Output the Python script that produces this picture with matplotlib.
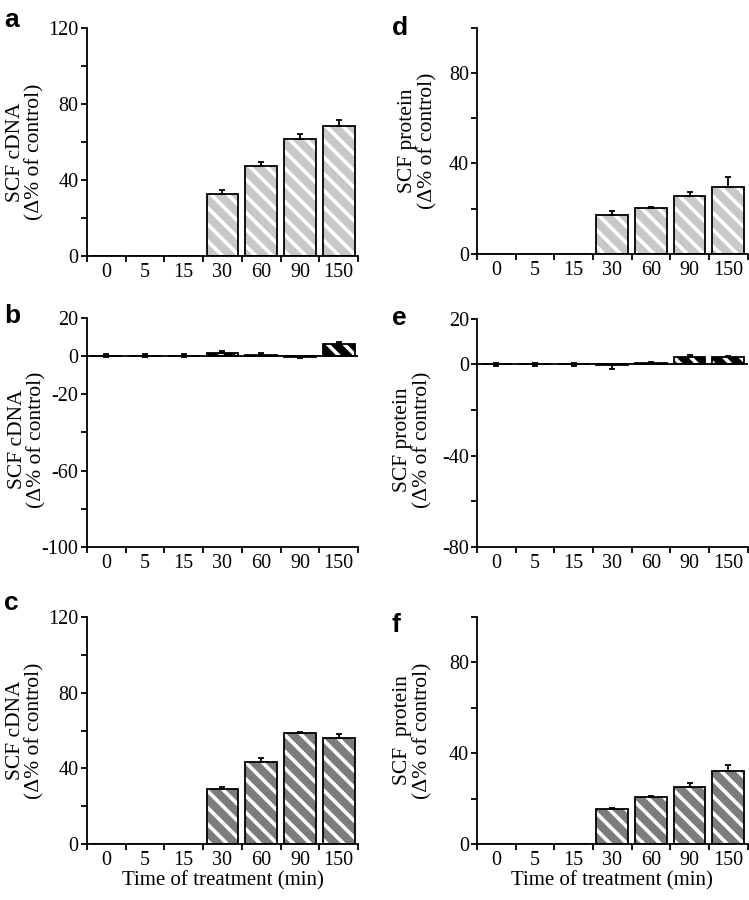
import matplotlib
matplotlib.use("Agg")
import matplotlib.pyplot as plt
import numpy as np

plt.rcParams['font.family'] = ['Liberation Serif', 'DejaVu Serif']
plt.rcParams['hatch.linewidth'] = 2.6

# time points (min)
times = ['0', '5', '15', '30', '60', '90', '150']

# SCF cDNA, first condition (a)
a_vals = [0, 0, 0, 32.5, 47.1, 61.7, 68.5]
a_err = [0, 0, 0, 2.3, 2.1, 2.3, 3.2]
# SCF cDNA, second condition (b)
b_vals = [0, 0, 0, 1.4, 0.5, -0.5, 6.0]
b_err = [0.8, 0.8, 0.8, 1.1, 0.8, 0.5, 1.4]
# SCF cDNA, third condition (c)
c_vals = [0, 0, 0, 29.0, 43.6, 58.5, 56.2]
c_err = [0, 0, 0, 1.4, 2.1, 0.5, 2.0]
# SCF protein (d, e, f)
d_vals = [0, 0, 0, 17.2, 20.3, 25.6, 29.7]
d_err = [0, 0, 0, 1.8, 0.6, 1.6, 4.1]
e_vals = [0, 0, 0, -0.4, 0.5, 3.4, 3.0]
e_err = [0.7, 0.7, 0.7, 1.6, 0.7, 0.6, 0.8]
f_vals = [0, 0, 0, 15.3, 20.5, 25.0, 32.3]
f_err = [0, 0, 0, 0.4, 0.7, 1.8, 2.5]

cdna_label = 'SCF cDNA\n(\u0394% of control)'
prot_label = 'SCF protein\n(\u0394% of control)'
prot_label_f = 'SCF  protein\n(\u0394% of control)'

fig = plt.figure(figsize=(7.49, 9.0), dpi=100)


def panel(rect, vals, errs, fill, ylim, labeled, ylabel, label_x, label_y,
          letter, letter_xy, xlabel=False, zero_line=False):
    ax = fig.add_axes(rect)
    x = np.arange(len(times))
    # hatched fill (white stripes), then black outline on top
    ax.bar(x, vals, width=0.82, color=fill, edgecolor='white', hatch='\\\\',
           linewidth=0, zorder=2)
    ax.bar(x, vals, width=0.82, fill=False, edgecolor='black', linewidth=1.3,
           zorder=3)
    for xi, v, e in zip(x, vals, errs):
        if e == 0:
            continue
        if v > 0:
            yerr = [[0], [e]]
        elif v < 0:
            yerr = [[e], [0]]
        else:
            yerr = [[e], [e]]
        ax.errorbar([xi], [v], yerr=yerr, fmt='none', ecolor='black',
                    elinewidth=1.3, capsize=2.5, capthick=1.3, zorder=4)
    if zero_line:
        ax.axhline(0, color='black', linewidth=1.3, zorder=3)

    ax.set_xlim(-0.5, len(times) - 0.5)
    ax.set_ylim(*ylim)
    ax.spines['top'].set_visible(False)
    ax.spines['right'].set_visible(False)
    ax.spines['left'].set_linewidth(1.3)
    ax.spines['bottom'].set_linewidth(1.3)

    # x: ticks on category boundaries, labels centred under bars
    ax.set_xticks(np.arange(-0.5, len(times), 1.0))
    ax.set_xticklabels([])
    ax.set_xticks(x, minor=True)
    ax.set_xticklabels(times, minor=True, fontsize=14.5)
    ax.tick_params(axis='x', which='major', direction='out', length=4.5, width=1.3)
    ax.tick_params(axis='x', which='minor', length=0, pad=5)

    yt = np.arange(ylim[0], ylim[1] + 1, 20)
    ax.set_yticks(yt)
    ax.set_yticklabels([str(int(t)) if t in labeled else '' for t in yt], fontsize=14.5)
    ax.tick_params(axis='y', direction='out', length=4, width=1.3, pad=2)

    ax.set_ylabel(ylabel, fontsize=15.5, linespacing=1.05)
    ax.yaxis.set_label_coords(label_x, label_y)
    if xlabel:
        ax.set_xlabel('Time of treatment (min)', fontsize=15, labelpad=1)

    fig.text(letter_xy[0], letter_xy[1], letter, fontsize=19, fontweight='bold',
             family='Liberation Sans', va='baseline', ha='left')
    return ax


left_l, width_l = 0.116, 0.362
left_r, width_r = 0.637, 0.361

panel([left_l, 0.7156, width_l, 0.2534], a_vals, a_err, '#c8c8c8', (0, 120),
      [0, 40, 80, 120], cdna_label, -0.155, 0.456, 'a', (0.006, 0.970))
panel([left_r, 0.718, width_r, 0.251], d_vals, d_err, '#c8c8c8', (0, 100),
      [0, 40, 80], prot_label, -0.148, 0.5, 'd', (0.523, 0.961))
panel([left_l, 0.392, width_l, 0.255], b_vals, b_err, 'black', (-100, 20),
      [20, 0, -20, -60, -100], cdna_label, -0.148, 0.47, 'b', (0.006, 0.641),
      zero_line=True)
panel([left_r, 0.392, width_r, 0.254], e_vals, e_err, 'black', (-80, 20),
      [20, 0, -40, -80], prot_label, -0.166, 0.47, 'e', (0.523, 0.639),
      zero_line=True)
panel([left_l, 0.0622, width_l, 0.2522], c_vals, c_err, '#7c7c7c', (0, 120),
      [0, 40, 80, 120], cdna_label, -0.155, 0.5, 'c', (0.006, 0.322),
      xlabel=True)
panel([left_r, 0.0622, width_r, 0.2522], f_vals, f_err, '#7c7c7c', (0, 100),
      [0, 40, 80], prot_label_f, -0.166, 0.5, 'f', (0.523, 0.298),
      xlabel=True)

fig.savefig('out.png', dpi=100)
